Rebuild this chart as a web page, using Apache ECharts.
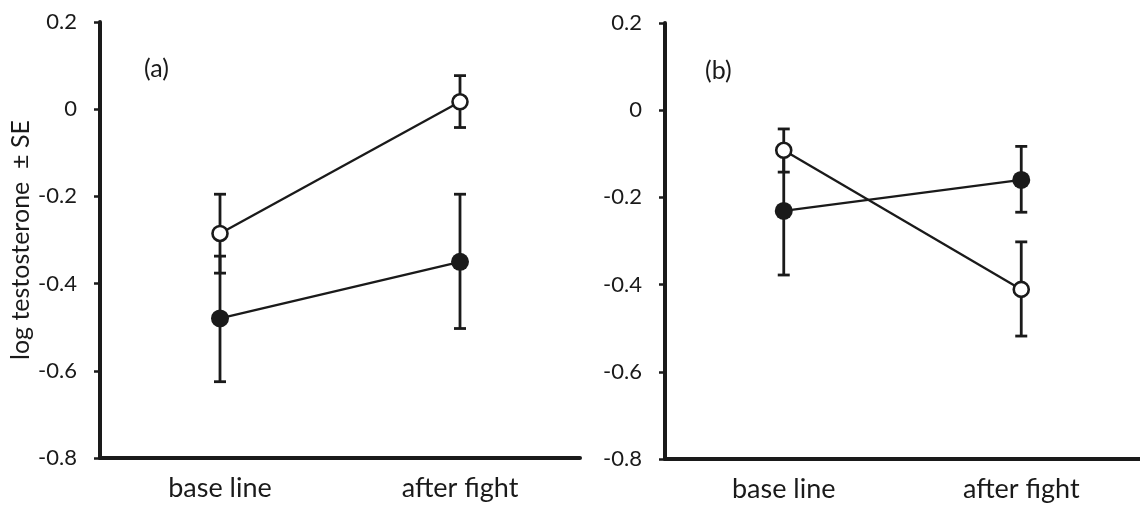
<!doctype html>
<html>
<head>
<meta charset="utf-8" />
<style>
  html, body { margin: 0; padding: 0; background: #fff; }
  #chart { width: 1140px; height: 507px; }
</style>
<script src="https://cdn.jsdelivr.net/npm/echarts@6/dist/echarts.min.js"></script>
</head>
<body>
<div id="chart"></div>
<script>
// Data: means with SE bounds (low/high).
const categories = ['base line', 'after fight'];
const yTicks = [-0.8, -0.6, -0.4, -0.2, 0, 0.2];

const aOpen = [-0.285, 0.017];
const aOpenLow = [-0.376, -0.042];
const aOpenHigh = [-0.195, 0.077];
const aFilled = [-0.48, -0.35];
const aFilledLow = [-0.625, -0.503];
const aFilledHigh = [-0.337, -0.195];

const bOpen = [-0.092, -0.411];
const bOpenLow = [-0.142, -0.518];
const bOpenHigh = [-0.043, -0.302];
const bFilled = [-0.231, -0.16];
const bFilledLow = [-0.378, -0.234];
const bFilledHigh = [-0.088, -0.083];

const font = 'Lato, "Open Sans", sans-serif';
const ink = '#1a1a1a';

// Custom series draws the vertical SE bar with short caps.
function errorSeries(axisIndex, lows, highs) {
  return {
    type: 'custom',
    xAxisIndex: axisIndex,
    yAxisIndex: axisIndex,
    z: 1,
    silent: true,
    data: categories.map((c, i) => [i, lows[i], highs[i]]),
    renderItem: function (params, api) {
      const low = api.coord([api.value(0), api.value(1)]);
      const high = api.coord([api.value(0), api.value(2)]);
      const half = 6;
      const style = { stroke: ink, lineWidth: 2.8 };
      return {
        type: 'group',
        children: [
          { type: 'line', shape: { x1: low[0], y1: low[1], x2: high[0], y2: high[1] }, style: style },
          { type: 'line', shape: { x1: low[0] - half, y1: low[1], x2: low[0] + half, y2: low[1] }, style: style },
          { type: 'line', shape: { x1: high[0] - half, y1: high[1], x2: high[0] + half, y2: high[1] }, style: style }
        ]
      };
    }
  };
}

function meanSeries(axisIndex, values, open) {
  return {
    type: 'line',
    xAxisIndex: axisIndex,
    yAxisIndex: axisIndex,
    z: 3,
    data: values,
    symbol: 'circle',
    symbolSize: open ? 15 : 18,
    lineStyle: { color: ink, width: 2.3 },
    itemStyle: open
      ? { color: '#fff', borderColor: ink, borderWidth: 2.6 }
      : { color: ink, borderWidth: 0 },
    animation: false
  };
}

function xAxis(gridIndex) {
  return {
    type: 'category',
    gridIndex: gridIndex,
    data: categories,
    boundaryGap: true,
    axisLine: { onZero: false, lineStyle: { color: ink, width: 4 } },
    axisTick: { show: false },
    axisLabel: { color: ink, fontSize: 27, fontFamily: font, margin: 17 }
  };
}

function yAxis(gridIndex, name) {
  return {
    type: 'value',
    gridIndex: gridIndex,
    min: yTicks[0],
    max: yTicks[yTicks.length - 1],
    interval: 0.2,
    name: name,
    nameLocation: 'middle',
    nameGap: 67,
    nameTextStyle: { color: ink, fontSize: 25, fontFamily: font },
    splitLine: { show: false },
    axisLine: { show: true, lineStyle: { color: ink, width: 4 } },
    axisTick: { show: true, length: 6, lineStyle: { color: ink, width: 2.5 } },
    axisLabel: {
      color: ink, fontSize: 22, fontFamily: font, margin: 23,
      formatter: v => String(Math.round(v * 10) / 10)
    }
  };
}

const chart = echarts.init(document.getElementById('chart'), null, { renderer: 'canvas' });
chart.setOption({
  backgroundColor: '#fff',
  animation: false,
  title: [
    { text: '(a)', left: 139, top: 51, textStyle: { fontSize: 25, fontWeight: 'normal', color: ink, fontFamily: font } },
    { text: '(b)', left: 700, top: 53, textStyle: { fontSize: 25, fontWeight: 'normal', color: ink, fontFamily: font } }
  ],
  grid: [
    { left: 100, top: 22, width: 480, height: 436 },
    { left: 665, top: 23, width: 480, height: 436 }
  ],
  xAxis: [xAxis(0), xAxis(1)],
  yAxis: [yAxis(0, 'log testosterone  \u00b1 SE'), yAxis(1, '')],
  series: [
    errorSeries(0, aOpenLow, aOpenHigh),
    errorSeries(0, aFilledLow, aFilledHigh),
    meanSeries(0, aOpen, true),
    meanSeries(0, aFilled, false),
    errorSeries(1, bOpenLow, bOpenHigh),
    errorSeries(1, bFilledLow, bFilledHigh),
    meanSeries(1, bOpen, true),
    meanSeries(1, bFilled, false)
  ]
});
</script>
</body>
</html>
